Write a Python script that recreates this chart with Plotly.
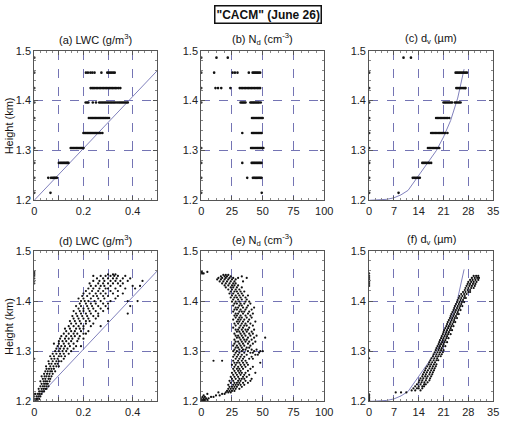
import plotly.graph_objects as go

# ---------------- data ----------------
# Top row: binned profiles (height km, list of values)
rows_lwc_top = [
    (1.215, [0, 0.066]),
    (1.245, [0, 0.057, 0.068, 0.074, 0.079, 0.083, 0.087, 0.092]),
    (1.275, [0, 0.100, 0.106, 0.111, 0.116, 0.121, 0.126, 0.131, 0.135, 0.139]),
    (1.305, [0, 0.148, 0.153, 0.158, 0.163, 0.168, 0.172, 0.177, 0.182, 0.187, 0.192, 0.196, 0.200]),
    (1.335, [0.200, 0.205, 0.21, 0.215, 0.22, 0.225, 0.23, 0.235, 0.24, 0.245, 0.25, 0.255, 0.26, 0.265, 0.27, 0.277]),
    (1.365, [0, 0.222, 0.228, 0.233, 0.238, 0.243, 0.248, 0.253, 0.258, 0.263, 0.268, 0.273, 0.278, 0.283, 0.288, 0.293, 0.298, 0.304]),
    (1.396, [0, 0.209, 0.215, 0.22, 0.238, 0.251, 0.264, 0.27, 0.276, 0.282, 0.288, 0.294, 0.3, 0.306, 0.312, 0.318, 0.324, 0.33, 0.337, 0.344, 0.35, 0.356, 0.362, 0.368, 0.374, 0.38]),
    (1.425, [0, 0.229, 0.235, 0.24, 0.246, 0.252, 0.258, 0.264, 0.27, 0.276, 0.282, 0.288, 0.294, 0.3, 0.306, 0.312, 0.318, 0.324, 0.33, 0.336, 0.343, 0.35]),
    (1.456, [0, 0.21, 0.218, 0.228, 0.236, 0.245, 0.273, 0.297, 0.303, 0.309, 0.315, 0.321, 0.327]),
    (1.486, [0]),
]
rows_nd_top = [
    (1.215, [0, 49.2]),
    (1.245, [0, 37.4, 42, 43, 44, 45, 46, 47, 48, 49]),
    (1.275, [0, 33.4, 41, 42, 43, 44, 45, 46, 47, 48, 49]),
    (1.305, [0, 40.5, 41.5, 42.5, 43.5, 44.5, 45.5, 46.5, 47.5, 48.5, 49.5, 50.5]),
    (1.335, [33.4, 41.3, 42.3, 43.3, 44.3, 45.3, 46.3, 47.3, 48.3, 49.2]),
    (1.365, [41.3, 42.3, 43.3, 44.3, 45.3, 46.3, 47.3, 48.3, 49.2, 50]),
    (1.396, [0, 32, 33, 34, 35, 36, 40, 41, 42, 43, 44, 45, 46, 47, 48.4]),
    (1.425, [0, 11.6, 13.7, 16.3, 23.7, 31.3, 32.5, 33.7, 34.9, 36.1, 37.3, 38.5, 39.7, 40.9, 42.1, 43.3, 44.5, 45.7, 46.9, 47.9]),
    (1.456, [0, 10.5, 25.5, 27.4, 29.5, 38.7, 41.8, 42.8, 43.8, 44.8, 45.8, 46.8, 47.9]),
    (1.486, [0, 12.4, 21.6]),
]
rows_dv_top = [
    (1.215, [0, 8.3]),
    (1.245, [0, 12.3, 12.7, 13.1, 13.5, 13.9, 14.3]),
    (1.275, [0, 15, 15.4, 15.8, 16.2, 16.6, 17, 17.5]),
    (1.305, [0, 16.6, 17, 17.4, 17.8, 18.2, 18.6, 19, 19.4, 19.8]),
    (1.335, [0, 17.5, 17.9, 18.3, 18.7, 19.1, 19.5, 19.9, 20.3, 20.7, 21.1, 21.5, 22.1]),
    (1.365, [0, 18.9, 19.3, 19.7, 20.1, 20.5, 20.9, 21.3, 21.7, 22.1, 22.6]),
    (1.396, [0, 21, 21.4, 21.8, 22.2, 22.6, 23, 23.4, 24.2, 24.6, 25, 25.4, 25.8]),
    (1.425, [0, 24.6, 25, 25.4, 25.8, 26.2, 26.6, 27, 27.2]),
    (1.456, [0, 24.4, 24.8, 25.2, 25.6, 26, 26.4, 26.8, 27.2, 27.6]),
    (1.486, [9.7, 11.8]),
]

# Bottom row: 1 Hz samples (height km, list of values)
rows_lwc_bot = [
    (1.200, [0, 0.005, 0.01, 0.015]), (1.205, [0, 0.008, 0.012, 0.02]),
    (1.210, [0, 0.01, 0.018, 0.025]), (1.215, [0, 0.005, 0.015, 0.022, 0.03]),
    (1.220, [0.02, 0.028, 0.035, 0.04]), (1.225, [0.018, 0.03, 0.038, 0.045, 0.05]),
    (1.230, [0.025, 0.035, 0.042, 0.05, 0.058]), (1.235, [0.03, 0.04, 0.048, 0.055]),
    (1.240, [0.025, 0.038, 0.045, 0.052, 0.062]), (1.245, [0.035, 0.045, 0.058, 0.065]),
    (1.250, [0.03, 0.042, 0.05, 0.06, 0.07]), (1.255, [0.04, 0.052, 0.062, 0.075]),
    (1.260, [0.045, 0.055, 0.065, 0.072, 0.085]), (1.265, [0.05, 0.06, 0.07, 0.08]),
    (1.270, [0.048, 0.065, 0.078, 0.09, 0.1]), (1.275, [0.06, 0.07, 0.085, 0.095]),
    (1.280, [0.058, 0.075, 0.09, 0.1, 0.11]), (1.285, [0, 0.07, 0.082, 0.095, 0.12]),
    (1.290, [0.065, 0.08, 0.1, 0.11, 0.125]), (1.295, [0.075, 0.09, 0.105, 0.12, 0.14]),
    (1.300, [0.085, 0.1, 0.115, 0.13, 0.15]), (1.305, [0.09, 0.105, 0.12, 0.135, 0.16]),
    (1.310, [0.095, 0.11, 0.125, 0.145, 0.17, 0.19]), (1.315, [0.08, 0.1, 0.12, 0.14, 0.16]),
    (1.320, [0.1, 0.115, 0.13, 0.15, 0.175]), (1.325, [0.105, 0.125, 0.14, 0.155, 0.18, 0.2]),
    (1.330, [0.11, 0.13, 0.15, 0.165, 0.185]), (1.335, [0.12, 0.14, 0.16, 0.175, 0.2, 0.21]),
    (1.340, [0.13, 0.15, 0.165, 0.19, 0.22]), (1.345, [0.125, 0.145, 0.17, 0.185, 0.2]),
    (1.350, [0.14, 0.16, 0.18, 0.2, 0.23, 0.27]), (1.355, [0.15, 0.17, 0.19, 0.21, 0.24]),
    (1.360, [0.145, 0.165, 0.185, 0.21, 0.225, 0.3]), (1.365, [0.16, 0.18, 0.2, 0.22, 0.25]),
    (1.370, [0.155, 0.175, 0.195, 0.215, 0.24, 0.26]), (1.375, [0.17, 0.19, 0.21, 0.23, 0.26, 0.38]),
    (1.380, [0.16, 0.185, 0.2, 0.225, 0.25, 0.28]), (1.385, [0.18, 0.2, 0.22, 0.24, 0.27, 0.3]),
    (1.390, [0.17, 0.19, 0.215, 0.235, 0.26, 0.29, 0.39]), (1.395, [0.185, 0.21, 0.23, 0.25, 0.28, 0.3]),
    (1.400, [0.19, 0.205, 0.22, 0.245, 0.27, 0.31, 0.38, 0.42]), (1.405, [0.18, 0.2, 0.23, 0.26, 0.285, 0.33]),
    (1.410, [0.195, 0.215, 0.24, 0.255, 0.28, 0.3, 0.34]), (1.415, [0.2, 0.225, 0.25, 0.27, 0.29, 0.32, 0.36]),
    (1.420, [0.21, 0.235, 0.26, 0.28, 0.31, 0.34]), (1.425, [0.22, 0.24, 0.265, 0.29, 0.3, 0.33, 0.37, 0.41]),
    (1.430, [0.23, 0.25, 0.27, 0.285, 0.31, 0.35, 0.4, 0.43]), (1.435, [0, 0.225, 0.26, 0.28, 0.3, 0.32, 0.34, 0.36]),
    (1.440, [0, 0.24, 0.265, 0.285, 0.31, 0.33, 0.35, 0.38, 0.44]), (1.445, [0, 0.255, 0.28, 0.3, 0.32, 0.335, 0.36, 0.39]),
    (1.450, [0, 0.24, 0.27, 0.29, 0.31, 0.325, 0.34, 0.37]), (1.453, [0, 0.3, 0.32, 0.33]),
    (1.456, [0]), (1.459, [0]),
]
rows_nd_bot = [
    (1.200, [0, 1, 2, 3]), (1.203, [0, 1.5, 3, 5]), (1.206, [0, 2, 4, 6]),
    (1.209, [1, 3, 8, 10]), (1.212, [2, 12, 15]), (1.215, [5, 17, 19]),
    (1.218, [14, 20, 22, 24]), (1.221, [21, 23, 25, 27]), (1.225, [22, 24, 26, 28, 31]),
    (1.229, [23, 25, 27, 29, 33]), (1.233, [22, 26, 28, 30, 32, 35]), (1.237, [24, 27, 29, 31, 34, 38]),
    (1.241, [23, 26, 30, 32, 36, 40]), (1.245, [25, 28, 31, 33, 35, 41]), (1.249, [24, 27, 30, 34, 37]),
    (1.253, [26, 29, 32, 35, 39]), (1.257, [25, 28, 31, 33, 36, 44]), (1.261, [27, 30, 32, 38]),
    (1.265, [26, 29, 31, 34, 40]), (1.269, [27, 30, 33, 36, 42]), (1.273, [25, 28, 32, 35, 38]),
    (1.277, [27, 29, 31, 34, 37, 48]), (1.281, [10, 17, 26, 30, 33, 36]), (1.285, [28, 31, 34, 39, 42]),
    (1.289, [26, 29, 32, 35, 41]), (1.293, [27, 30, 33, 37, 44, 46]), (1.297, [28, 31, 35, 40, 42, 47]),
    (1.300, [26, 29, 33, 38, 43, 48, 50]), (1.303, [27, 31, 34, 36, 41, 45]), (1.307, [28, 30, 33, 37, 39]),
    (1.311, [26, 29, 32, 35, 40]), (1.315, [27, 31, 34, 38, 42]), (1.319, [28, 30, 33, 36, 39, 44]),
    (1.323, [27, 32, 35, 37, 41]), (1.327, [29, 31, 34, 38, 43, 52]), (1.331, [28, 30, 33, 36, 40, 45]),
    (1.335, [27, 32, 35, 39, 42]), (1.339, [29, 31, 34, 37, 41]), (1.343, [28, 30, 33, 36, 38, 43]),
    (1.347, [26, 31, 34, 39]), (1.351, [28, 32, 35, 37, 42]), (1.355, [27, 30, 33, 36, 40]),
    (1.359, [29, 31, 34, 38, 44]), (1.363, [26, 30, 32, 35, 39]), (1.367, [28, 31, 33, 37, 41]),
    (1.371, [27, 29, 32, 36, 40]), (1.375, [28, 30, 34, 38, 42]), (1.379, [26, 31, 33, 35, 39]),
    (1.383, [27, 29, 32, 36, 41]), (1.387, [28, 30, 34, 37, 43]), (1.391, [26, 31, 33, 38]),
    (1.395, [27, 29, 32, 35, 40]), (1.399, [25, 28, 31, 36, 39]), (1.403, [26, 30, 33, 37]),
    (1.407, [24, 27, 29, 32, 36]), (1.411, [25, 28, 31, 34, 38]), (1.415, [23, 26, 30, 33]),
    (1.419, [24, 27, 29, 32, 35]), (1.423, [22, 25, 28, 31]), (1.427, [20, 24, 26, 29, 33]),
    (1.431, [19, 22, 25, 27, 30]), (1.435, [17, 20, 23, 26, 28]), (1.439, [15, 18, 21, 24, 27, 34]),
    (1.443, [13, 16, 19, 22, 25, 28]), (1.446, [14, 17, 20, 23, 26, 30, 37]), (1.449, [16, 19, 21, 24, 33]),
    (1.452, [18, 20, 22]), (1.455, [0, 1, 2]), (1.458, [0, 0.5, 5]),
]
rows_dv_bot = [
    (1.200, [0]), (1.202, [0]), (1.205, [0]), (1.208, [0]), (1.211, [0]), (1.214, [0]),
    (1.218, [7.5, 9, 10.5]), (1.222, [12, 13, 14.5]), (1.226, [12.5, 13.5, 14, 15]),
    (1.230, [13, 14, 15, 15.5]), (1.234, [13.5, 14.5, 15.5, 16]), (1.238, [14, 14.8, 15.6, 16.5]),
    (1.242, [14.2, 15, 16, 17]), (1.246, [14.5, 15.3, 16.2, 17.2]), (1.250, [15, 15.8, 16.5, 17.5]),
    (1.254, [15.2, 16, 17, 17.8]), (1.258, [15.5, 16.3, 17.2, 18]), (1.262, [15.8, 16.6, 17.5, 18.3]),
    (1.266, [16, 17, 17.8, 18.5]), (1.270, [16.4, 17.2, 18, 18.8]), (1.274, [16.8, 17.5, 18.3, 19]),
    (1.278, [17, 17.8, 18.6]), (1.282, [17.3, 18.2, 19, 19.5]), (1.286, [0, 17.6, 18.4, 19.2]),
    (1.290, [18, 18.8, 19.5, 20.2]), (1.294, [18.2, 19, 19.8, 20.5]), (1.298, [18.5, 19.3, 20, 20.8]),
    (1.302, [0, 18.8, 19.6, 20.3, 21]), (1.306, [19, 19.8, 20.5]), (1.310, [19.3, 20, 20.8, 21.5]),
    (1.314, [19.6, 20.3, 21]), (1.318, [19.8, 20.6, 21.3, 22]), (1.322, [20, 20.8, 21.5]),
    (1.326, [20.3, 21, 21.8, 22.4]), (1.330, [20.5, 21.3, 22]), (1.334, [20.8, 21.6, 22.3, 23]),
    (1.338, [21, 21.8, 22.5]), (1.342, [21.2, 22, 22.8, 23.4]), (1.346, [21.5, 22.3, 23]),
    (1.350, [21.8, 22.5, 23.2, 23.8]), (1.354, [22, 22.8, 23.5]), (1.358, [22.2, 23, 23.8, 24.3]),
    (1.362, [22.5, 23.3, 24]), (1.366, [22.8, 23.5, 24.2, 24.8]), (1.370, [23, 23.8, 24.5]),
    (1.374, [23.2, 24, 24.8, 25.3]), (1.378, [23.5, 24.3, 25]), (1.382, [23.8, 24.5, 25.2, 25.8]),
    (1.386, [24, 24.8, 25.5]), (1.390, [24.2, 25, 25.7, 26.3]), (1.394, [24.5, 25.3, 26]),
    (1.398, [24.8, 25.5, 26.2, 26.8]), (1.402, [25, 25.8, 26.5]), (1.406, [25.3, 26, 26.8, 27.3]),
    (1.410, [25.5, 26.3, 27]), (1.414, [26, 26.8, 27.5]), (1.418, [26.5, 27.2, 28, 28.5]),
    (1.422, [27, 27.8, 28.5]), (1.426, [27.2, 28, 28.8, 29.5]), (1.430, [0, 27.5, 28.3, 29, 29.8]),
    (1.434, [0, 27.8, 28.5, 29.3, 30]), (1.438, [0, 28, 28.8, 29.5, 30.3]), (1.442, [0, 28.5, 29.2, 30, 30.8]),
    (1.446, [0, 29, 29.8, 30.5, 31]), (1.450, [0, 29.5, 30.2, 30.8]), (1.455, [0]),
]

# Adiabatic reference curves
adiab_lwc = [0.0, 0.5]
adiab_lwc_h = [1.2, 1.46]
adiab_dv = [0, 3, 5, 7, 9, 11, 13, 15, 17, 19, 21, 23, 25, 26.8]
adiab_dv_h = [1.200, 1.2005, 1.202, 1.205, 1.211, 1.22, 1.24, 1.26, 1.28, 1.30, 1.327, 1.36, 1.405, 1.463]

lwc_ticks = [0, 0.1, 0.2, 0.3, 0.4, 0.5]
lwc_labels = ["0", "", "0.2", "", "0.4", ""]
nd_ticks = [0, 25, 50, 75, 100]
dv_ticks = [0, 7, 14, 21, 28, 35]
h_ticks = [1.2, 1.3, 1.4, 1.5]

titles = ["(a) LWC (g/m<sup>3</sup>)", "(b) N<sub>d</sub> (cm<sup>-3</sup>)", "(c) d<sub>v</sub> (\u00b5m)",
          "(d) LWC (g/m<sup>3</sup>)", "(e) N<sub>d</sub> (cm<sup>-3</sup>)", "(f) d<sub>v</sub> (\u00b5m)"]

# ---------------- figure ----------------
W, H = 508, 422
FONT = "Arial, Liberation Sans, Helvetica, sans-serif"
GRID = "#7474b4"
LINE = "#8080bc"

def expand(rows):
    xs, hs = [], []
    for h, vals in rows:
        for v in vals:
            xs.append(v)
            hs.append(h)
    return xs, hs

xdom = [(32 / W, 158 / W), (203 / W, 329 / W), (375 / W, 502 / W)]
ydom = [(1 - 200 / H, 1 - 46 / H), (1 - 407 / H, 1 - 252 / H)]

panels = [
    (rows_lwc_top, (adiab_lwc, adiab_lwc_h), [0, 0.5], lwc_ticks, lwc_labels),
    (rows_nd_top, None, [0, 100], nd_ticks, [str(t) for t in nd_ticks]),
    (rows_dv_top, (adiab_dv, adiab_dv_h), [0, 35], dv_ticks, [str(t) for t in dv_ticks]),
    (rows_lwc_bot, (adiab_lwc, adiab_lwc_h), [0, 0.5], lwc_ticks, lwc_labels),
    (rows_nd_bot, None, [0, 100], nd_ticks, [str(t) for t in nd_ticks]),
    (rows_dv_bot, (adiab_dv, adiab_dv_h), [0, 35], dv_ticks, [str(t) for t in dv_ticks]),
]

fig = go.Figure()
layout = {}
annotations = []
for i, (rows, curve, xr, tv, tt) in enumerate(panels):
    n = i + 1
    xa = "x" if n == 1 else f"x{n}"
    ya = "y" if n == 1 else f"y{n}"
    col, row = i % 3, i // 3
    if curve is not None:
        fig.add_trace(go.Scatter(x=curve[0], y=curve[1], mode="lines", xaxis=xa, yaxis=ya,
                                 line=dict(color=LINE, width=1), showlegend=False, hoverinfo="skip"))
    xs, hs = expand(rows)
    fig.add_trace(go.Scatter(x=xs, y=hs, mode="markers", xaxis=xa, yaxis=ya,
                             marker=dict(color="#111", size=2.6 if row == 0 else 2.2, line=dict(width=0)),
                             showlegend=False))
    common = dict(showgrid=True, gridcolor=GRID, griddash="dash", gridwidth=1,
                  showline=True, linecolor="#555", linewidth=1, mirror="allticks",
                  ticks="inside", ticklen=4, tickcolor="#555", zeroline=False,
                  tickfont=dict(family=FONT, size=11, color="#222"))
    layout["xaxis" if n == 1 else f"xaxis{n}"] = dict(
        common, domain=list(xdom[col]), anchor=ya, range=xr, tickmode="array",
        tickvals=tv, ticktext=tt,
        minor=dict(ticks="inside", ticklen=2, tickcolor="#888", dtick=(tv[1] - tv[0]) / 4, tick0=0, showgrid=False))
    layout["yaxis" if n == 1 else f"yaxis{n}"] = dict(
        common, domain=list(ydom[row]), anchor=xa, range=[1.2, 1.5], tickmode="array",
        tickvals=h_ticks, ticktext=["1.2", "1.3", "1.4", "1.5"],
        minor=dict(ticks="inside", ticklen=2, tickcolor="#888", dtick=0.02, tick0=1.2, showgrid=False))
    xc = (xdom[col][0] + xdom[col][1]) / 2
    ytitle = (1 - 34 / H) if row == 0 else (1 - 241 / H)
    annotations.append(dict(text=titles[i], x=xc, y=ytitle, xref="paper", yref="paper",
                            showarrow=False, xanchor="center", yanchor="middle",
                            font=dict(family=FONT, size=11, color="#111")))

for row in range(2):
    yc = (ydom[row][0] + ydom[row][1]) / 2
    annotations.append(dict(text="Height (km)", x=6 / W, y=yc, xref="paper", yref="paper",
                            showarrow=False, textangle=-90, xanchor="center", yanchor="middle",
                            font=dict(family=FONT, size=11, color="#111")))

annotations.append(dict(text="<b>\"CACM\" (June 26)</b>", x=271 / W, y=1 - 9 / H, xref="paper", yref="paper",
                        showarrow=False, xanchor="center", yanchor="middle",
                        bordercolor="#111", borderwidth=1.5, borderpad=1, bgcolor="white",
                        font=dict(family=FONT, size=12, color="#111")))

fig.update_layout(width=W, height=H, margin=dict(l=0, r=0, t=0, b=0),
                  paper_bgcolor="white", plot_bgcolor="white",
                  annotations=annotations, **layout)

fig.write_html("out.html")
